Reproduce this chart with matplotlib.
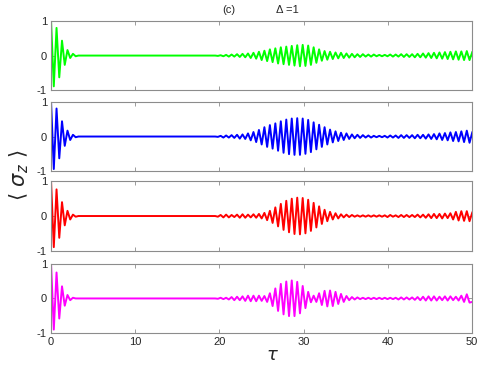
import numpy as np
import matplotlib
matplotlib.use("Agg")
import matplotlib.pyplot as plt

# ==============================================================================
# DATA (extrema, spaced by half a Rabi period)
# ==============================================================================
HALF_PERIOD = 0.325      # time between successive extrema
REVIVAL_START = 19.5     # time of first extremum of the revival block

green_collapse = [1, -0.89, 0.80, -0.63, 0.43, -0.27, 0.16, -0.07, 0.05, -0.02, 0]
blue_collapse = [1, -0.94, 0.81, -0.63, 0.44, -0.27, 0.17, -0.10, 0.05, -0.02, 0]
red_collapse = [1, -0.90, 0.77, -0.63, 0.40, -0.27, 0.15, -0.10, 0.04, -0.02, 0]
magenta_collapse = [1, -0.90, 0.75, -0.58, 0.35, -0.21, 0.10, -0.05, 0.02, 0]

green_revival = [
    0.0, -0.01, 0.01, -0.02, 0.02, -0.03, 0.03, -0.03,
    0.04, -0.04, 0.05, -0.05, 0.06, -0.07, 0.08,
    -0.09, 0.11, -0.13, 0.14, -0.16, 0.18,
    -0.19, 0.21, -0.23, 0.24, -0.25, 0.26, -0.27, 0.28, -0.29, 0.30,
    -0.31, 0.31, -0.30, 0.29, -0.27,
    0.24, -0.21, 0.18, -0.15, 0.13,
    -0.12, 0.11, -0.10, 0.09, -0.08, 0.08, -0.07, 0.06, -0.06, 0.05,
    -0.05, 0.04, -0.04, 0.04, -0.03, 0.03, -0.03, 0.03, -0.02, 0.02,
    -0.02, 0.02, -0.02, 0.03, -0.03, 0.03, -0.03, 0.04, -0.04, 0.04,
    -0.04, 0.04, -0.05, 0.05, -0.05, 0.06, -0.06, 0.07, -0.07, 0.08,
    -0.08, 0.09, -0.09, 0.10, -0.10, 0.11, -0.11, 0.12, -0.12, 0.12,
    -0.13, 0.13, -0.13, 0.10,
]
blue_revival = [
    0.0, -0.01, 0.02, -0.03, 0.03, -0.03, 0.04, -0.04,
    0.05, -0.06, 0.06, -0.07, 0.09, -0.11, 0.13,
    -0.16, 0.19, -0.23, 0.27, -0.30, 0.33,
    -0.35, 0.38, -0.41, 0.44, -0.47, 0.49, -0.51, 0.52, -0.53, 0.53,
    -0.53, 0.52, -0.50, 0.48, -0.45,
    0.41, -0.37, 0.34, -0.30, 0.27,
    -0.23, 0.20, -0.17, 0.15, -0.13, 0.11, -0.10, 0.09, -0.07, 0.06,
    -0.05, 0.05, -0.04, 0.04, -0.03, 0.03, -0.03, 0.02, -0.02, 0.02,
    -0.02, 0.02, -0.03, 0.03, -0.03, 0.03, -0.04, 0.04, -0.04, 0.04,
    -0.04, 0.04, -0.05, 0.05, -0.05, 0.05, -0.06, 0.06, -0.07, 0.07,
    -0.08, 0.09, -0.10, 0.10, -0.11, 0.12, -0.13, 0.13, -0.14, 0.15,
    -0.16, 0.17, -0.18, 0.12,
]
red_revival = [
    0.0, -0.02, 0.03, -0.04, 0.04, -0.04, 0.03, -0.03,
    0.04, -0.05, 0.05, -0.05, 0.04, -0.04, 0.05,
    -0.05, 0.06, -0.07, 0.09, -0.12, 0.15,
    -0.20, 0.25, -0.30, 0.35, -0.40, 0.44, -0.47, 0.50, -0.52, 0.53,
    -0.53, 0.52, -0.50, 0.47, -0.43,
    0.38, -0.33, 0.28, -0.23, 0.18,
    -0.15, 0.12, -0.10, 0.08, -0.07, 0.05, -0.04, 0.04, -0.03, 0.03,
    -0.02, 0.02, -0.02, 0.02, -0.02, 0.02, -0.02, 0.02, -0.02, 0.02,
    -0.02, 0.02, -0.03, 0.03, -0.02, 0.02, -0.03, 0.03, -0.03, 0.03,
    -0.03, 0.03, -0.03, 0.04, -0.04, 0.04, -0.05, 0.05, -0.06, 0.06,
    -0.06, 0.06, -0.07, 0.07, -0.06, 0.08, -0.10, 0.12, -0.13, 0.14,
    -0.14, 0.14, -0.15, 0.10,
]
magenta_revival = [
    0.0, -0.01, 0.02, -0.02, 0.02, -0.03, 0.04, -0.05,
    0.05, -0.05, 0.06, -0.07, 0.08, -0.08, 0.08,
    -0.08, 0.08, -0.07, 0.07, -0.10, 0.15,
    -0.22, 0.29, -0.36, 0.42, -0.46, 0.49, -0.51, 0.52, -0.51, 0.48,
    -0.43, 0.36, -0.28, 0.19, -0.11,
    0.08, -0.10, 0.15, -0.19, 0.22,
    -0.23, 0.23, -0.22, 0.19, -0.16, 0.13, -0.10, 0.07, -0.05, 0.04,
    -0.03, 0.03, -0.02, 0.02, -0.02, 0.02, -0.02, 0.02, -0.02, 0.02,
    -0.02, 0.02, -0.02, 0.02, -0.02, 0.02, -0.03, 0.03, -0.03, 0.03,
    -0.03, 0.03, -0.04, 0.04, -0.05, 0.05, -0.06, 0.06, -0.06, 0.06,
    -0.06, 0.05, -0.05, 0.06, -0.06, 0.06, -0.05, 0.05, -0.06, 0.08,
    -0.10, 0.12, -0.12, -0.10,
]

panel_colors = ["#00ff00", "#0000ff", "#ff0000", "#ff00ff"]
x_ticks = [0, 10, 20, 30, 40, 50]
y_ticks = [-1, 0, 1]


# ==============================================================================
# HELPERS
# ==============================================================================
def montar_serie(collapse, revival):
    """Joins the collapse block (from t=0) and the revival block."""
    t_c = HALF_PERIOD * np.arange(len(collapse))
    t_r = REVIVAL_START + HALF_PERIOD * np.arange(len(revival))
    return np.concatenate([t_c, t_r]), np.concatenate([collapse, revival])


def plotar(series):
    plt.rcParams["font.family"] = ["Liberation Sans", "DejaVu Sans"]
    plt.rcParams["axes.unicode_minus"] = False
    fig = plt.figure(figsize=(4.91, 3.68), dpi=100)

    left, width, height = 0.104, 0.857, 0.188
    bottoms = [0.755, 0.535, 0.319, 0.095]
    frame = "#8c8c8c"

    for i, ((t, y), cor) in enumerate(zip(series, panel_colors)):
        ax = fig.add_axes([left, bottoms[i], width, height])
        ax.plot(t, y, color=cor, linewidth=1.4)
        ax.set_xlim(0, 50)
        ax.set_ylim(-1, 1)
        ax.set_xticks(x_ticks)
        ax.set_yticks(y_ticks)
        ax.tick_params(direction="in", length=3, width=0.6, color=frame,
                       labelsize=8, labelcolor="#262626", top=True, right=True,
                       pad=3)
        if i < 3:
            ax.tick_params(labelbottom=False)
        for sp in ax.spines.values():
            sp.set_color(frame)
            sp.set_linewidth(0.8)

    fig.text(0.555, 0.035, r"$\tau$", fontsize=13,
             ha="center", va="center", color="#262626")
    fig.text(0.04, 0.525, r"$\langle\ \sigma_z\ \rangle$", fontsize=15,
             rotation=90, ha="center", va="center", color="#262626")
    fig.text(0.465, 0.972, "(c)", fontsize=8, ha="center", va="center",
             color="#262626")
    fig.text(0.585, 0.972, "\u0394 =1", fontsize=8, ha="center",
             va="center", color="#262626")

    fig.savefig("out.png", dpi=100)


if __name__ == "__main__":
    dados = [
        montar_serie(green_collapse, green_revival),
        montar_serie(blue_collapse, blue_revival),
        montar_serie(red_collapse, red_revival),
        montar_serie(magenta_collapse, magenta_revival),
    ]
    plotar(dados)
